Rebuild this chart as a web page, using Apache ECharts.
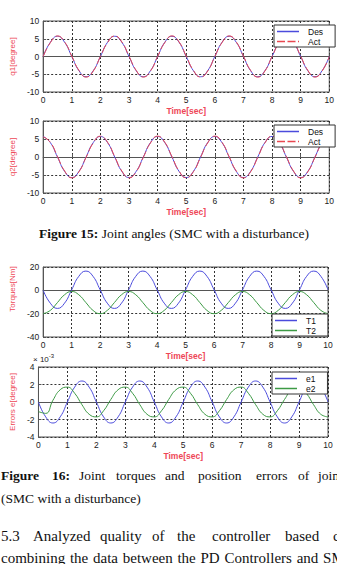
<!DOCTYPE html>
<html>
<head>
<meta charset="utf-8">
<script src="https://cdn.jsdelivr.net/npm/echarts@6/dist/echarts.min.js"></script>
<style>
    body { margin: 0; background: #fff; overflow: hidden; }
    #chart { position: absolute; left: 0; top: 0; width: 337px; height: 564px; }
    .txt { position: absolute; font-family: 'Liberation Serif', 'DejaVu Serif', serif; font-size: 13.5px; color: #111; white-space: nowrap; line-height: 15px; }
    .body { font-size: 15px; line-height: 17px; }
    .w { position: absolute; top: 0; }
    .exp { position: absolute; left: 33px; top: 353px; font-family: 'Liberation Sans', Arial, sans-serif; font-size: 8px; color: #222; }
</style>
</head>
<body>
<div id="chart"></div>
<div class="exp">× 10<sup style="font-size:6px">-3</sup></div>
<div class="txt" style="left:39px;top:226px"><b>Figure 15:</b> Joint angles (SMC with a disturbance)</div>
<div class="txt" style="left:0;top:468px;width:337px;height:15px">
    <span class="w" style="left:1px"><b>Figure</b></span>
    <span class="w" style="left:52px"><b>16:</b></span>
    <span class="w" style="left:79px">Joint</span>
    <span class="w" style="left:116px">torques</span>
    <span class="w" style="left:165px">and</span>
    <span class="w" style="left:198px">position</span>
    <span class="w" style="left:256px">errors</span>
    <span class="w" style="left:298px">of</span>
    <span class="w" style="left:318px">join</span>
</div>
<div class="txt" style="left:1px;top:491px">(SMC with a disturbance)</div>
<div class="txt body" style="left:0;top:528px;width:337px;height:17px">
    <span class="w" style="left:1px">5.3</span>
    <span class="w" style="left:33px">Analyzed</span>
    <span class="w" style="left:100px">quality</span>
    <span class="w" style="left:152px">of</span>
    <span class="w" style="left:177px">the</span>
    <span class="w" style="left:212px">controller</span>
    <span class="w" style="left:285px">based</span>
    <span class="w" style="left:333px">c</span>
</div>
<div class="txt body" style="left:1px;top:550px;word-spacing:1px">combining the data between the PD Controllers and SMC</div>
<script>
// time samples [sec]
var times = [0, 0.25, 0.5, 0.75, 1, 1.25, 1.5, 1.75, 2, 2.25, 2.5, 2.75, 3, 3.25, 3.5, 3.75,
    4, 4.25, 4.5, 4.75, 5, 5.25, 5.5, 5.75, 6, 6.25, 6.5, 6.75, 7, 7.25, 7.5, 7.75,
    8, 8.25, 8.5, 8.75, 9, 9.25, 9.5, 9.75, 10];

// joint angle q1 [degree]
var q1Des = [0, 4.0, 5.7, 4.0, 0, -4.0, -5.7, -4.0, 0, 4.0, 5.7, 4.0, 0, -4.0, -5.7, -4.0,
    0, 4.0, 5.7, 4.0, 0, -4.0, -5.7, -4.0, 0, 4.0, 5.7, 4.0, 0, -4.0, -5.7, -4.0,
    0, 4.0, 5.7, 4.0, 0, -4.0, -5.7, -4.0, 0];
var q1Act = [0, 3.9, 5.8, 4.1, 0.1, -3.9, -5.8, -4.1, 0, 3.9, 5.8, 4.1, 0.1, -3.9, -5.8, -4.1,
    0, 3.9, 5.8, 4.1, 0.1, -3.9, -5.8, -4.1, 0, 3.9, 5.8, 4.1, 0.1, -3.9, -5.8, -4.1,
    0, 3.9, 5.8, 4.1, 0.1, -3.9, -5.8, -4.1, 0];

// joint angle q2 [degree]
var q2Des = [5.7, 4.0, 0, -4.0, -5.7, -4.0, 0, 4.0, 5.7, 4.0, 0, -4.0, -5.7, -4.0, 0, 4.0,
    5.7, 4.0, 0, -4.0, -5.7, -4.0, 0, 4.0, 5.7, 4.0, 0, -4.0, -5.7, -4.0, 0, 4.0,
    5.7, 4.0, 0, -4.0, -5.7, -4.0, 0, 4.0, 5.7];
var q2Act = [5.6, 4.1, 0.1, -3.9, -5.8, -4.1, -0.1, 3.9, 5.8, 4.1, 0.1, -3.9, -5.8, -4.1, -0.1, 3.9,
    5.8, 4.1, 0.1, -3.9, -5.8, -4.1, -0.1, 3.9, 5.8, 4.1, 0.1, -3.9, -5.8, -4.1, -0.1, 3.9,
    5.8, 4.1, 0.1, -3.9, -5.8, -4.1, -0.1, 3.9, 5.8];

// joint torques [Nm]
var tau1 = [0, -11, -15.5, -11, 0.5, 12, 16.5, 12, 0.5, -11, -15.5, -11, 0.5, 12, 16.5, 12,
    0.5, -11, -15.5, -11, 0.5, 12, 16.5, 12, 0.5, -11, -15.5, -11, 0.5, 12, 16.5, 12,
    0.5, -11, -15.5, -11, 0.5, 12, 16.5, 12, 0.5];
var tau2 = [-20, -17.2, -10.5, -3.8, -1, -3.8, -10.5, -17.2, -20, -17.2, -10.5, -3.8, -1, -3.8, -10.5, -17.2,
    -20, -17.2, -10.5, -3.8, -1, -3.8, -10.5, -17.2, -20, -17.2, -10.5, -3.8, -1, -3.8, -10.5, -17.2,
    -20, -17.2, -10.5, -3.8, -1, -3.8, -10.5, -17.2, -20];

// position errors [x 1e-3 degree]
var err1 = [0, -1.7, -2.4, -1.7, 0, 1.7, 2.4, 1.7, 0, -1.7, -2.4, -1.7, 0, 1.7, 2.4, 1.7,
    0, -1.7, -2.4, -1.7, 0, 1.7, 2.4, 1.7, 0, -1.7, -2.4, -1.7, 0, 1.7, 2.4, 1.7,
    0, -1.7, -2.4, -1.7, 0, 1.7, 2.4, 1.7, 0];
var err2 = [-1.1, -1.3, 0.2, 1.4, 1.7, 1.0, -0.3, -1.4, -1.7, -1.0, 0.3, 1.4, 1.7, 1.0, -0.3, -1.4,
    -1.7, -1.0, 0.3, 1.4, 1.7, 1.0, -0.3, -1.4, -1.7, -1.0, 0.3, 1.4, 1.7, 1.0, -0.3, -1.4,
    -1.7, -1.0, 0.3, 1.4, 1.7, 1.0, -0.3, -1.4, -1.7];

var blue = '#4b4bdc';
var red = '#e8474f';
var green = '#3d9a45';
var labelRed = '#ee4656';
var fontFamily = "'Liberation Sans', Arial, sans-serif";
var actDash = [9, 3];

// legend keys drawn as thin filled strips (solid / dashed)
var solidKey = 'path://M0,0H22V1.5H0Z';
var dashedKey = 'path://M0,0H8V1.5H0Z M10.5,0H18.5V1.5H10.5Z M21,0H22V1.5H21Z';

function pairs(values) {
    return values.map(function (v, i) { return [times[i], v]; });
}

function legendItem(name, color, dashed) {
    return { name: name, icon: dashed ? dashedKey : solidKey, itemStyle: { color: color, opacity: 1, borderWidth: 0 } };
}

var grids = [
    { left: 35, top: 21, width: 298, height: 71 },
    { left: 35, top: 121, width: 298, height: 72 },
    { left: 32, top: 267, width: 296, height: 70 },
    { left: 32, top: 367, width: 296, height: 70 }
];

var yDefs = [
    { min: -10, max: 10, interval: 5, name: 'q1[degree]', gap: 24, pad: [0, 0, 0, 0] },
    { min: -10, max: 10, interval: 5, name: 'q2[degree]', gap: 24, pad: [0, 0, 0, 0] },
    { min: -40, max: 20, interval: 20, name: 'Torques[Nm]', gap: 21, pad: [0, 0, 0, 26] },
    { min: -4, max: 4, interval: 2, name: 'Errors e[degree]', gap: 21, pad: [0, 0, 0, 0] }
];

var splitStyle = { show: true, lineStyle: { color: '#333', width: 1, type: [2, 2] } };

var chart = echarts.init(document.getElementById('chart'), null, { renderer: 'svg' });

var option = {
    animation: false,
    grid: grids.map(function (g) {
        return Object.assign({ show: true, borderColor: '#555', borderWidth: 1, containLabel: false }, g);
    }),
    xAxis: grids.map(function (g, i) {
        return {
            type: 'value', gridIndex: i, min: 0, max: 10, interval: 1,
            name: 'Time[sec]', nameLocation: 'middle', nameGap: 14,
            nameTextStyle: { color: labelRed, fontWeight: 'bold', fontSize: 8.5, fontFamily: fontFamily },
            axisLine: { lineStyle: { color: '#555' } },
            axisTick: { inside: true, length: 3, lineStyle: { color: '#555' } },
            axisLabel: { color: '#222', fontSize: 8.5, margin: 3, fontFamily: fontFamily },
            splitLine: splitStyle
        };
    }),
    yAxis: yDefs.map(function (d, i) {
        return {
            type: 'value', gridIndex: i, min: d.min, max: d.max, interval: d.interval,
            name: d.name, nameLocation: 'middle', nameGap: d.gap, nameRotate: 90,
            nameTextStyle: { color: labelRed, fontSize: 8, fontFamily: fontFamily, padding: d.pad },
            axisLine: { show: true, lineStyle: { color: '#555' } },
            axisTick: { show: true, inside: true, length: 3, lineStyle: { color: '#555' } },
            axisLabel: { color: '#222', fontSize: 8.5, margin: 4, fontFamily: fontFamily },
            splitLine: splitStyle
        };
    }),
    legend: [
        { data: [legendItem('Des', blue), legendItem('Act', red, true)], left: 274, top: 25 },
        { data: [legendItem('Des', blue), legendItem('Act', red, true)], left: 274, top: 125 },
        { data: [legendItem('T1', blue), legendItem('T2', green)], left: 272, top: 314 },
        { data: [legendItem('e1', blue), legendItem('e2', green)], left: 272, top: 372 }
    ].map(function (l) {
        return Object.assign({
            orient: 'vertical', backgroundColor: '#fff', borderColor: '#333', borderWidth: 1,
            padding: [2, 12, 1, 3], itemGap: 1, itemWidth: 22, itemHeight: 8,
            textStyle: { color: '#111', fontSize: 8.5, fontFamily: fontFamily, padding: [0, 0, 0, 4] },
            selectedMode: false
        }, l);
    }),
    series: [
        { name: 'Des', idx: 0, values: q1Des, color: blue },
        { name: 'Act', idx: 0, values: q1Act, color: red, dash: actDash },
        { name: 'Des', idx: 1, values: q2Des, color: blue },
        { name: 'Act', idx: 1, values: q2Act, color: red, dash: actDash },
        { name: 'T1', idx: 2, values: tau1, color: blue },
        { name: 'T2', idx: 2, values: tau2, color: green },
        { name: 'e1', idx: 3, values: err1, color: blue },
        { name: 'e2', idx: 3, values: err2, color: green }
    ].map(function (s) {
        return {
            type: 'line', name: s.name, xAxisIndex: s.idx, yAxisIndex: s.idx,
            data: pairs(s.values), smooth: 0.5, showSymbol: false, symbol: 'none',
            color: s.color,
            lineStyle: { color: s.color, width: 1, type: s.dash || 'solid' }
        };
    })
};

chart.setOption(option);
</script>
</body>
</html>
